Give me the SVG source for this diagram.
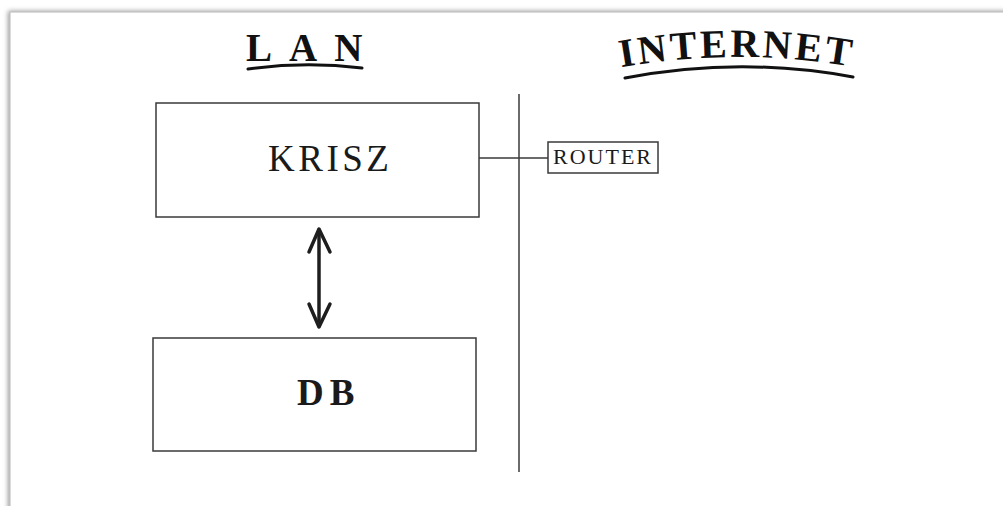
<svg xmlns="http://www.w3.org/2000/svg" width="1003" height="506" viewBox="0 0 1003 506">
  <style>
    .box { fill: #ffffff; stroke: #3a3a3a; stroke-width: 1.5; }
    .wire { fill: none; stroke: #3a3a3a; stroke-width: 1.5; }
    .head { font-family: "Liberation Serif", "Times New Roman", serif; font-weight: bold; fill: #111111; }
    .swoosh { fill: none; stroke: #111111; stroke-width: 3; stroke-linecap: round; }
    .label { font-family: "Liberation Serif", "Times New Roman", serif; fill: #1a1a1a; }
    .arrow { fill: none; stroke: #1e1e1e; stroke-width: 3.5; stroke-linecap: round; stroke-linejoin: round; }
  </style>
  <defs>
    <filter id="pageShadow" x="-5%" y="-5%" width="110%" height="110%">
      <feGaussianBlur stdDeviation="2.5"/>
    </filter>
    <path id="netArc" d="M 617 68 Q 738 46 859 68"/>
  </defs>

  <!-- page sheet with soft shadow -->
  <rect x="0" y="0" width="1003" height="506" fill="#ffffff"/>
  <rect x="8" y="11" width="1010" height="510" fill="#9a9a9a" filter="url(#pageShadow)"/>
  <rect x="10" y="12" width="1010" height="510" fill="#ffffff" stroke="#c4c4c4" stroke-width="1.2"/>

  <!-- section headings -->
  <g id="heading-lan">
    <text class="head" x="246" y="61" font-size="39" letter-spacing="17">LAN</text>
    <path class="swoosh" d="M 248 69 Q 305 61 362 68"/>
  </g>
  <g id="heading-internet">
    <text class="head" font-size="40" letter-spacing="3"><textPath href="#netArc" startOffset="4">INTERNET</textPath></text>
    <path class="swoosh" d="M 625 78 Q 740 56 853 77"/>
  </g>

  <!-- boundary between LAN and internet -->
  <g id="boundary">
    <line class="wire" x1="519" y1="94" x2="519" y2="472"/>
  </g>

  <g id="krisz">
    <rect class="box" x="156" y="103" width="323" height="114"/>
    <text class="label" x="268" y="171" font-size="37" letter-spacing="3.5">KRISZ</text>
  </g>

  <g id="db">
    <rect class="box" x="153" y="338" width="323" height="113"/>
    <text class="label" x="297" y="405" font-size="37" font-weight="bold" letter-spacing="6">DB</text>
  </g>

  <g id="router">
    <rect class="box" x="548" y="142" width="110" height="31"/>
    <text class="label" x="553" y="164" font-size="22" letter-spacing="2">ROUTER</text>
  </g>

  <g id="connectors">
    <line class="wire" x1="479" y1="158" x2="548" y2="158"/>
    <line class="arrow" x1="319" y1="230" x2="319" y2="326"/>
    <polyline class="arrow" points="309,252 319,229 330,252"/>
    <polyline class="arrow" points="309,304 319,327 330,304"/>
  </g>
</svg>
